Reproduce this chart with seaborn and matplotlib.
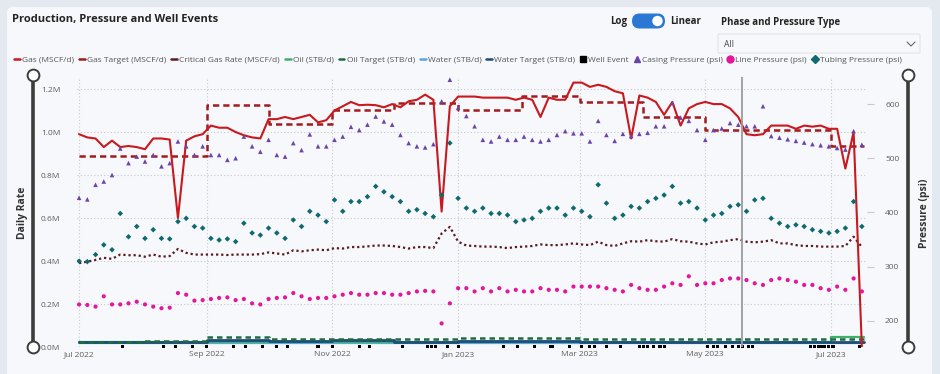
import numpy as np
import pandas as pd
import matplotlib
matplotlib.use('Agg')
import matplotlib.pyplot as plt
import matplotlib.dates as mdates
import seaborn as sns
from matplotlib.lines import Line2D
from matplotlib.patches import FancyBboxPatch, Circle

# ---- data (4-day samples from 1 Jul 2022) ----
start_date = '2022-07-01'
n_samples = 96

gas = [0.99, 0.975, 0.97, 0.93, 0.96, 0.93, 0.935, 0.93, 0.92, 0.97,
       0.97, 0.965, 0.60, 0.96, 0.98, 0.99, 1.03, 1.02, 1.02, 1.00,
       0.985, 0.975, 0.97, 1.06, 1.06, 1.07, 1.06, 1.07, 1.08, 1.045,
       1.055, 1.10, 1.12, 1.14, 1.125, 1.127, 1.125, 1.115, 1.13, 1.115,
       1.143, 1.15, 1.174, 1.15, 0.63, 1.12, 1.165, 1.165, 1.165, 1.16,
       1.16, 1.16, 1.16, 1.15, 1.16, 1.15, 1.07, 1.16, 1.15, 1.15,
       1.23, 1.23, 1.21, 1.22, 1.21, 1.19, 1.18, 0.97, 1.17, 1.16,
       1.14, 1.08, 1.14, 1.03, 1.11, 1.13, 1.14, 1.13, 1.13, 1.11,
       1.07, 0.99, 0.985, 0.99, 1.03, 1.03, 1.03, 1.015, 1.03, 1.025,
       1.03, 1.015, 1.015, 0.83, 1.0, 0.0]

critical_gas = [0.39, 0.397, 0.405, 0.415, 0.41, 0.43, 0.427, 0.427, 0.42, 0.43,
                0.42, 0.423, 0.456, 0.438, 0.43, 0.43, 0.43, 0.43, 0.428, 0.43,
                0.43, 0.43, 0.432, 0.44, 0.435, 0.43, 0.45, 0.445, 0.45, 0.453,
                0.45, 0.46, 0.458, 0.465, 0.465, 0.468, 0.472, 0.472, 0.47, 0.465,
                0.458, 0.465, 0.465, 0.46, 0.528, 0.559, 0.49, 0.472, 0.47, 0.467,
                0.467, 0.465, 0.46, 0.465, 0.467, 0.47, 0.477, 0.474, 0.474, 0.477,
                0.482, 0.477, 0.474, 0.49, 0.474, 0.47, 0.482, 0.492, 0.49, 0.497,
                0.492, 0.49, 0.502, 0.492, 0.49, 0.482, 0.477, 0.487, 0.49, 0.497,
                0.502, 0.49, 0.487, 0.49, 0.497, 0.482, 0.482, 0.474, 0.47, 0.47,
                0.467, 0.467, 0.467, 0.47, 0.513, 0.465]

casing_psi = [427, 424, 451, 457, 469, 518, 491, 503, 494, 506,
              485, 491, 531, 522, 506, 522, 506, 506, 497, 500,
              540, 522, 512, 534, 506, 503, 528, 515, 544, 522,
              522, 534, 540, 558, 552, 562, 577, 568, 562, 543,
              528, 522, 520, 526, 605, 645, 593, 578, 559, 534,
              531, 540, 534, 534, 540, 534, 531, 534, 543, 550,
              546, 546, 531, 569, 543, 532, 545, 541, 545, 547,
              559, 559, 602, 575, 569, 552, 534, 552, 555, 565,
              562, 559, 559, 596, 541, 538, 535, 532, 529, 526,
              524, 522, 519, 516, 550, 525]

tubing_psi = [310, 309, 322, 340, 331, 398, 355, 374, 352, 368,
              352, 351, 383, 389, 374, 371, 352, 349, 351, 346,
              380, 362, 358, 371, 362, 352, 386, 374, 402, 395,
              383, 423, 402, 420, 420, 429, 448, 438, 429, 420,
              402, 405, 398, 392, 432, 528, 426, 408, 402, 408,
              398, 398, 395, 383, 386, 389, 402, 408, 408, 395,
              408, 402, 392, 451, 417, 389, 395, 411, 408, 420,
              426, 432, 448, 417, 420, 408, 386, 395, 398, 411,
              414, 402, 423, 426, 389, 380, 374, 377, 374, 368,
              365, 362, 365, 371, 420, 374]

line_psi = [230, 229, 226, 245, 230, 230, 232, 235, 230, 226,
            223, 224, 251, 248, 237, 238, 240, 242, 243, 238,
            240, 232, 230, 240, 242, 243, 251, 245, 240, 242,
            242, 245, 248, 251, 248, 248, 251, 251, 248, 248,
            251, 254, 255, 254, 195, 232, 260, 260, 254, 260,
            254, 260, 254, 257, 254, 254, 260, 257, 257, 254,
            263, 263, 263, 263, 260, 257, 254, 266, 260, 257,
            257, 263, 269, 266, 282, 266, 269, 269, 275, 278,
            278, 275, 269, 266, 275, 278, 275, 272, 266, 266,
            260, 257, 263, 257, 278, 254]

# monthly step series (last edge closes the final month)
month_edges = ['2022-07-01', '2022-08-01', '2022-09-01', '2022-10-01', '2022-11-01',
               '2022-12-01', '2023-01-01', '2023-02-01', '2023-03-01', '2023-04-01',
               '2023-05-01', '2023-06-01', '2023-07-01', '2023-07-17']
gas_target = [0.888, 0.888, 1.126, 1.036, 1.101, 1.133, 1.101, 1.169, 1.138, 1.070, 1.008, 1.008, 0.933]
oil_rate = [0.021, 0.021, 0.022, 0.022, 0.022, 0.022, 0.022, 0.022, 0.022, 0.021, 0.021, 0.021, 0.046]
oil_target = [0.023, 0.029, 0.045, 0.035, 0.038, 0.038, 0.040, 0.042, 0.035, 0.035, 0.035, 0.035, 0.035]
water_rate = [0.018, 0.018, 0.019, 0.019, 0.019, 0.019, 0.019, 0.019, 0.018, 0.018, 0.018, 0.018, 0.017]
water_target = [0.022, 0.022, 0.031, 0.030, 0.033, 0.025, 0.030, 0.030, 0.025, 0.025, 0.022, 0.022, 0.022]

# well events, days after 1 Jul 2022
well_event_days = [21, 41, 47, 55, 62, 75, 81, 89, 96, 101, 116, 123, 136, 141, 157, 169, 171,
                   173, 179, 184, 206, 213, 221, 229, 230, 238, 244, 248, 250, 256, 263, 272,
                   274, 276, 279, 282, 284, 305, 308, 310, 314, 317, 320, 322, 325, 327, 355,
                   357, 359, 360, 361, 362, 364, 366, 379]
cursor_date = '2023-05-19'

rate_ticks = [0, 0.2, 0.4, 0.6, 0.8, 1.0, 1.2]
psi_ticks = [200, 300, 400, 500, 600]

# ---- frames ----
dates = pd.date_range(start_date, periods=n_samples, freq='4D')
df = pd.DataFrame({'date': dates, 'gas': gas, 'critical': critical_gas,
                   'casing': casing_psi, 'tubing': tubing_psi, 'line': line_psi})
edges = pd.to_datetime(month_edges)
steps = pd.DataFrame({'date': edges,
                      'gas_target': gas_target + gas_target[-1:],
                      'oil': oil_rate + oil_rate[-1:],
                      'oil_target': oil_target + oil_target[-1:],
                      'water': water_rate + water_rate[-1:],
                      'water_target': water_target + water_target[-1:]})
events = pd.DataFrame({'date': pd.Timestamp(start_date) + pd.to_timedelta(well_event_days, unit='D')})
events['y'] = 0.003

# ---- style ----
sns.set_theme(style='white')
plt.rcParams['font.family'] = ['Open Sans', 'DejaVu Sans']

c_gas = '#c8191e'
c_gas_t = '#a11a1d'
c_crit = '#5b1b1f'
c_oil = '#3fb06a'
c_oil_t = '#1f6b3c'
c_water = '#5aa6e6'
c_water_t = '#1e4d78'
c_casing = '#6c43aa'
c_line = '#e3169c'
c_tubing = '#0e6a70'
card = '#f6f8fb'
txt = '#605e5c'

fig = plt.figure(figsize=(9.4, 3.74), dpi=100)
fig.patch.set_facecolor('#e4e9f0')

# overlay in pixel coordinates for the report chrome
ov = fig.add_axes([0, 0, 1, 1], zorder=0)
ov.set_xlim(0, 940)
ov.set_ylim(374, 0)
ov.axis('off')
ov.add_patch(FancyBboxPatch((7, 7), 925, 380, boxstyle='round,pad=0,rounding_size=6',
                            facecolor=card, edgecolor='none'))
ov.text(12, 19, 'Production, Pressure and Well Events', fontsize=8, fontweight='bold',
        color='#252423', va='center', ha='left')
# toggle
ov.text(627, 21, 'Log', fontsize=7, fontweight='bold', color='#252423', va='center', ha='right')
ov.add_patch(FancyBboxPatch((632, 13.5), 33, 15, boxstyle='round,pad=0,rounding_size=7.5',
                            facecolor='#2b78d4', edgecolor='none'))
ov.add_patch(Circle((657.5, 21), 5.2, facecolor='white', edgecolor='none'))
ov.text(670, 21, 'Linear', fontsize=7, fontweight='bold', color='#252423', va='center', ha='left')
# slicer
ov.text(721, 22, 'Phase and Pressure Type', fontsize=7, fontweight='bold', color='#252423',
        va='center', ha='left')
ov.add_patch(FancyBboxPatch((718, 34), 202, 19, boxstyle='round,pad=0,rounding_size=1',
                            facecolor=card, edgecolor='#e1e3e6', lw=0.8))
ov.text(724, 44, 'All', fontsize=6.2, color='#444444', va='center', ha='left')
ov.plot([907, 911, 915], [42, 46, 42], color='#666666', lw=0.8)
# range sliders
for sx in (33, 908):
    ov.plot([sx, sx], [75, 347], color='#3c3c3c', lw=2.6, solid_capstyle='butt')
    ov.plot([sx, sx], [75, 347], linestyle='none', marker='o', markersize=8.5,
            markerfacecolor='white', markeredgecolor='#3c3c3c', markeredgewidth=1.4)
ov.text(22, 213, 'Daily Rate', rotation=90, fontsize=7.5, fontweight='bold', color='#333333',
        va='center', ha='center')
ov.text(924, 213, 'Pressure (psi)', rotation=90, fontsize=7.5, fontweight='bold', color='#333333',
        va='center', ha='center')

# ---- main axes ----
ax = fig.add_axes([77 / 940, 27 / 374, 790 / 940, 270 / 374], zorder=1)
ax.set_facecolor('none')

sns.lineplot(data=steps, x='date', y='water', ax=ax, color=c_water, lw=1.6, drawstyle='steps-post')
sns.lineplot(data=steps, x='date', y='oil', ax=ax, color=c_oil, lw=1.6, drawstyle='steps-post')
sns.lineplot(data=steps, x='date', y='water_target', ax=ax, color=c_water_t, lw=2.0,
             drawstyle='steps-post')
sns.lineplot(data=steps, x='date', y='oil_target', ax=ax, color=c_oil_t, lw=1.8,
             linestyle=(0, (2.2, 1.6)), drawstyle='steps-post')
sns.lineplot(data=df, x='date', y='critical', ax=ax, color=c_crit, lw=1.6, linestyle=(0, (1, 1.3)))
sns.lineplot(data=steps, x='date', y='gas_target', ax=ax, color=c_gas_t, lw=1.8,
             linestyle=(0, (2.5, 1.6)), drawstyle='steps-post')
sns.lineplot(data=df, x='date', y='gas', ax=ax, color=c_gas, lw=1.5)
sns.scatterplot(data=events, x='date', y='y', ax=ax, marker='s', s=5, color='black',
                edgecolor='none', clip_on=False, zorder=5)
ax.axvline(pd.Timestamp(cursor_date), color='#9b9b9b', lw=1.3, zorder=6)

ax.set_ylim(0, 1.256)
ax.set_xlim(pd.Timestamp('2022-06-30'), pd.Timestamp('2023-07-18 12:00'))
ax.set_yticks(rate_ticks)
ax.set_yticklabels([f'{v:.1f}M' for v in rate_ticks])
ax.xaxis.set_major_locator(mdates.MonthLocator(bymonth=[1, 3, 5, 7, 9, 11]))
ax.xaxis.set_major_formatter(mdates.DateFormatter('%b %Y'))
ax.grid(True, color='#c9c9c9', linestyle=(0, (1, 2)), lw=0.8)
ax.set_axisbelow(True)
ax.tick_params(axis='both', length=0, labelsize=6, labelcolor=txt)
ax.tick_params(axis='y', pad=12)
ax.tick_params(axis='x', pad=3)
ax.set_xlabel('')
ax.set_ylabel('')
for s in ax.spines.values():
    s.set_visible(False)

ax2 = ax.twinx()
ax2.set_zorder(2)
sns.scatterplot(data=df, x='date', y='line', ax=ax2, marker='o', s=9, color=c_line,
                edgecolor='none')
sns.scatterplot(data=df, x='date', y='tubing', ax=ax2, marker='D', s=8, color=c_tubing,
                edgecolor='none')
sns.scatterplot(data=df, x='date', y='casing', ax=ax2, marker='^', s=11, color=c_casing,
                edgecolor='none')
ax2.set_ylim(151.4, 650)
ax2.set_yticks(psi_ticks)
ax2.tick_params(axis='y', length=5, width=0.8, color='#c9c9c9', labelsize=6, labelcolor=txt, pad=8)
ax2.set_ylabel('')
ax2.grid(False)
for s in ax2.spines.values():
    s.set_visible(False)
ax.set_xlim(pd.Timestamp('2022-06-30'), pd.Timestamp('2023-07-18 12:00'))

# ---- legend ----
handles = [
    Line2D([], [], color=c_gas, lw=1.8),
    Line2D([], [], color=c_gas_t, lw=1.8),
    Line2D([], [], color=c_crit, lw=1.8),
    Line2D([], [], color=c_oil, lw=1.8),
    Line2D([], [], color=c_oil_t, lw=1.8),
    Line2D([], [], color=c_water, lw=1.8),
    Line2D([], [], color=c_water_t, lw=1.8),
    Line2D([], [], color='black', marker='s', linestyle='none', markersize=5),
    Line2D([], [], color=c_casing, marker='^', linestyle='none', markersize=5),
    Line2D([], [], color=c_line, marker='o', linestyle='none', markersize=5),
    Line2D([], [], color=c_tubing, marker='D', linestyle='none', markersize=4),
]
labels = ['Gas (MSCF/d)', 'Gas Target (MSCF/d)', 'Critical Gas Rate (MSCF/d)', 'Oil (STB/d)',
          'Oil Target (STB/d)', 'Water (STB/d)', 'Water Target (STB/d)', 'Well Event',
          'Casing Pressure (psi)', 'Line Pressure (psi)', 'Tubing Pressure (psi)']
leg = fig.legend(handles, labels, loc='center', bbox_to_anchor=(458 / 940, 1 - 60 / 374), ncol=11,
                 frameon=False, fontsize=6.0, handlelength=0.7, handletextpad=0.25,
                 columnspacing=0.6, borderaxespad=0)
for t in leg.get_texts():
    t.set_color('#555555')

fig.savefig('out.png', dpi=100, facecolor=fig.get_facecolor())
